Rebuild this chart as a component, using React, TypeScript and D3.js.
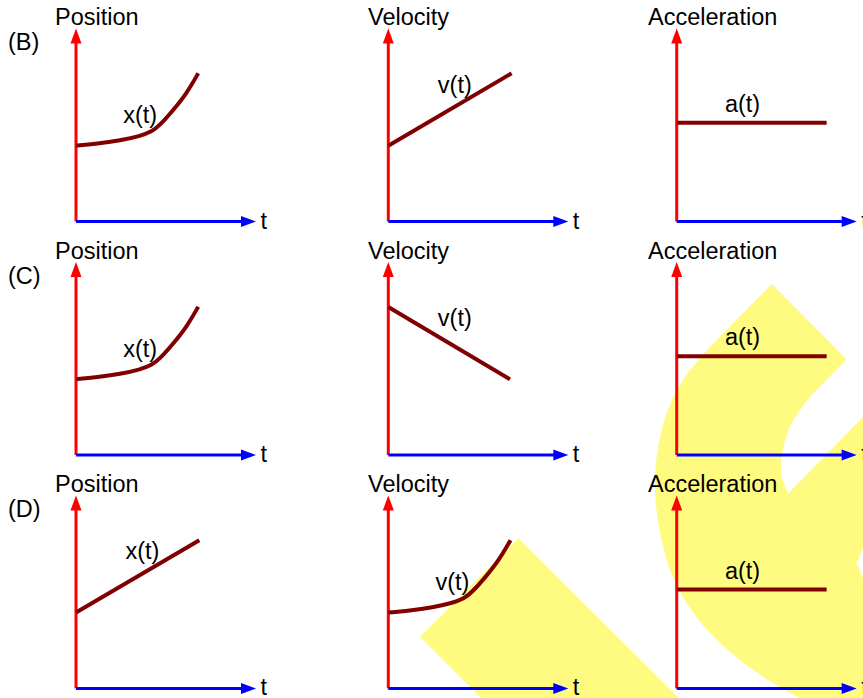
import React, { useEffect } from "react";
import * as d3 from "d3";

// ---- data ----
const rowLabels = ["(B)", "(C)", "(D)"];
const quantities = ["Position", "Velocity", "Acceleration"];
const functionNames = ["x(t)", "v(t)", "a(t)"];
const timeLabel = "t";

// curve shapes in (t, value) units, t and value each on a 0..10 axis
const curvedRise: [number, number][] = [
  [0, 3.93], [1.33, 4.05], [2.44, 4.19], [3.56, 4.43], [4.21, 4.65],
  [4.67, 5.0], [5.41, 5.78], [6.15, 6.64], [6.79, 7.68],
];
const linearRise: [number, number][] = [[0, 3.93], [6.85, 7.68]];
const linearFall: [number, number][] = [[0, 7.67], [6.76, 3.92]];
const constantLevel: [number, number][] = [[0, 5.12], [8.33, 5.12]];

const shapes: Record<string, [number, number][]> = { curvedRise, linearRise, linearFall, constantLevel };

const panelShapes = [
  ["curvedRise", "linearRise", "constantLevel"],
  ["curvedRise", "linearFall", "constantLevel"],
  ["linearRise", "curvedRise", "constantLevel"],
];

// label anchors (t, value) for each curve shape
const labelAnchors: Record<string, [number, number]> = {
  curvedRise: [2.62, 5.1],
  linearRise: [2.75, 6.68],
  linearFall: [2.75, 6.68],
  constantLevel: [2.68, 5.69],
};

// ---- layout ----
const W = 863, H = 698;
const colOrigins = [76, 388.3, 676.7];
const rowOrigins = [221.5, 455, 688.4];
const titleX = [55, 368, 648];
const FONT = "'Liberation Sans', Arial, Helvetica, sans-serif";
const FS = 23.5;
const CURVE = "#800000";

const tScale = d3.scaleLinear().domain([0, 10]).range([0, 180]);
const vScale = d3.scaleLinear().domain([0, 10]).range([0, -193]);

const curveLine = d3.line<[number, number]>()
  .x((d) => tScale(d[0]))
  .y((d) => vScale(d[1]))
  .curve(d3.curveBasis);

// background yellow watermark shape
function yellowPath(): string {
  const lg = d3.line<[number, number]>().curve(d3.curveCatmullRom.alpha(0.5));
  const inner: [number, number][] = [[810, 396.7], [790, 426.7], [781.7, 456.7], [781.7, 476.7], [788.3, 493.3]];
  const outer: [number, number][] = [
    [800, 698], [773, 683], [740, 660], [710, 633], [686.7, 603], [670, 570],
    [658.3, 523], [655, 486.7], [656.7, 456.7], [666.7, 413], [683, 380], [710, 346.7],
  ];
  const innerD = (lg(inner) || "").replace(/^M/, "L");
  const outerD = (lg(outer) || "").replace(/^M/, "L");
  return `M771.7,284 L846.7,359.3 ${innerD} L863,417 L863,548 L856.7,563 L863,578 L863,700 ${outerD} Z`;
}
const bandPath = "M518.3,538.3 L420,636.7 L520,737 L718,737 Z";

function Panel({ r, c }: { r: number; c: number }) {
  const ox = colOrigins[c];
  const oy = rowOrigins[r];
  const key = panelShapes[r][c];
  const data = shapes[key];
  const [lt, lv] = labelAnchors[key];
  const xEnd = tScale(10);
  const yEnd = vScale(10);
  const aL = 15, aW = 5.5;
  return (
    <g transform={`translate(${ox},${oy})`}>
      <line x1={0} y1={0} x2={0} y2={yEnd + aL - 1} stroke="#ff0000" strokeWidth={3} />
      <polygon points={`0,${yEnd} ${-aW},${yEnd + aL} ${aW},${yEnd + aL}`} fill="#ff0000" />
      <line x1={0} y1={0} x2={xEnd - aL + 1} y2={0} stroke="#0000ff" strokeWidth={3} />
      <polygon points={`${xEnd},0 ${xEnd - aL},${-aW} ${xEnd - aL},${aW}`} fill="#0000ff" />
      <text x={xEnd + 4.5} y={7} fontSize={FS} fontFamily={FONT} fill="#000">{timeLabel}</text>
      <path d={curveLine(data) || ""} fill="none" stroke={CURVE} strokeWidth={4} />
      <text x={tScale(lt)} y={vScale(lv)} fontSize={FS} fontFamily={FONT} fill="#000">{functionNames[c]}</text>
    </g>
  );
}

export default function App() {
  useEffect(() => {
    document.body.style.margin = "0";
    document.body.style.overflow = "hidden";
  }, []);
  return (
    <svg width={W} height={H} viewBox={`0 0 ${W} ${H}`}
      style={{ position: "absolute", left: 0, top: 0, background: "#fff" }}>
      <rect x={0} y={0} width={W} height={H} fill="#fff" />
      <path d={yellowPath()} fill="#fefb80" />
      <path d={bandPath} fill="#fefb80" />
      {rowLabels.map((rl, r) => (
        <g key={rl}>
          <text x={8} y={50 + (rowOrigins[r] - rowOrigins[0])} fontSize={FS} fontFamily={FONT} fill="#000">{rl}</text>
          {quantities.map((q, c) => (
            <text key={q} x={titleX[c]} y={rowOrigins[r] - 196.5} fontSize={FS} fontFamily={FONT} fill="#000">{q}</text>
          ))}
          {quantities.map((q, c) => <Panel key={q} r={r} c={c} />)}
        </g>
      ))}
    </svg>
  );
}
